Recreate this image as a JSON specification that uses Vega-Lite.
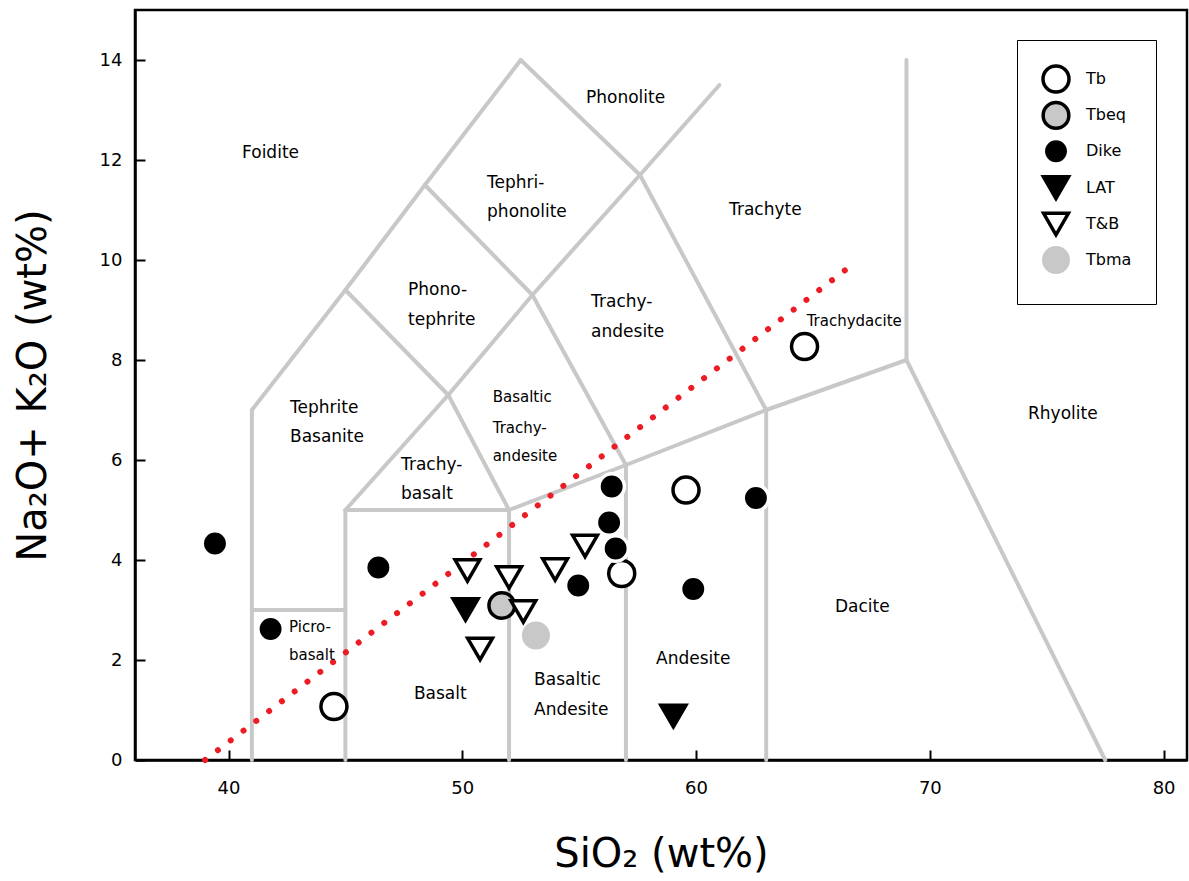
{
  "$schema": "https://vega.github.io/schema/vega-lite/v6.json",
  "width": 1052,
  "height": 750,
  "autosize": {"type": "none"},
  "padding": {"left": 135, "top": 10, "right": 2, "bottom": 121},
  "background": "white",
  "config": {
    "view": {"stroke": "black", "strokeWidth": 2.5},
    "axis": {
      "domainColor": "black",
      "domainWidth": 2.5,
      "tickColor": "black",
      "tickWidth": 2,
      "tickSize": -10,
      "grid": false,
      "labelFont": "DejaVu Sans",
      "labelFontSize": 18,
      "labelColor": "black",
      "labelFlush": false,
      "titleFont": "DejaVu Sans",
      "titleFontSize": 40,
      "titleFontWeight": "normal",
      "titleColor": "black"
    },
    "legend": {
      "orient": "none",
      "legendX": 882,
      "legendY": 30,
      "padding": 24,
      "strokeColor": "black",
      "fillColor": "white",
      "labelFont": "DejaVu Sans",
      "labelFontSize": 16,
      "labelColor": "black",
      "labelOffset": 15,
      "rowPadding": -4.6,
      "gridAlign": "all",
      "symbolStrokeWidth": 3.5,
      "symbolOpacity": 1
    }
  },
  "datasets": {
    "segments": [
      {"x": 41, "y": 0, "x2": 41, "y2": 7},
      {"x": 41, "y": 3, "x2": 45, "y2": 3},
      {"x": 45, "y": 0, "x2": 45, "y2": 5},
      {"x": 45, "y": 5, "x2": 52, "y2": 5},
      {"x": 52, "y": 0, "x2": 52, "y2": 5},
      {"x": 52, "y": 5, "x2": 57, "y2": 5.9},
      {"x": 57, "y": 0, "x2": 57, "y2": 5.9},
      {"x": 57, "y": 5.9, "x2": 63, "y2": 7},
      {"x": 63, "y": 0, "x2": 63, "y2": 7},
      {"x": 63, "y": 7, "x2": 69, "y2": 8},
      {"x": 69, "y": 8, "x2": 69, "y2": 14},
      {"x": 69, "y": 8, "x2": 77.5, "y2": 0},
      {"x": 45, "y": 5, "x2": 49.4, "y2": 7.3},
      {"x": 49.4, "y": 7.3, "x2": 52, "y2": 5},
      {"x": 49.4, "y": 7.3, "x2": 53, "y2": 9.3},
      {"x": 53, "y": 9.3, "x2": 57, "y2": 5.9},
      {"x": 53, "y": 9.3, "x2": 57.6, "y2": 11.7},
      {"x": 57.6, "y": 11.7, "x2": 63, "y2": 7},
      {"x": 57.6, "y": 11.7, "x2": 61, "y2": 13.5},
      {"x": 41, "y": 7, "x2": 45, "y2": 9.4},
      {"x": 45, "y": 9.4, "x2": 49.4, "y2": 7.3},
      {"x": 45, "y": 9.4, "x2": 48.4, "y2": 11.5},
      {"x": 48.4, "y": 11.5, "x2": 53, "y2": 9.3},
      {"x": 48.4, "y": 11.5, "x2": 52.5, "y2": 14},
      {"x": 52.5, "y": 14, "x2": 57.6, "y2": 11.7}
    ],
    "divider": [
      {"x": 39, "y": 0, "x2": 66.5, "y2": 9.84}
    ],
    "labelsLarge": [
      {"x": 40.58, "y": 12.14, "label": "Foidite"},
      {"x": 55.29, "y": 13.24, "label": "Phonolite"},
      {"x": 51.06, "y": 11.54, "label": "Tephri-"},
      {"x": 51.06, "y": 10.96, "label": "phonolite"},
      {"x": 61.41, "y": 11.0, "label": "Trachyte"},
      {"x": 47.68, "y": 9.4, "label": "Phono-"},
      {"x": 47.68, "y": 8.8, "label": "tephrite"},
      {"x": 55.51, "y": 9.16, "label": "Trachy-"},
      {"x": 55.51, "y": 8.56, "label": "andesite"},
      {"x": 42.63, "y": 7.04, "label": "Tephrite"},
      {"x": 42.63, "y": 6.46, "label": "Basanite"},
      {"x": 47.38, "y": 5.9, "label": "Trachy-"},
      {"x": 47.38, "y": 5.32, "label": "basalt"},
      {"x": 74.2, "y": 6.92, "label": "Rhyolite"},
      {"x": 65.94, "y": 3.06, "label": "Dacite"},
      {"x": 47.93, "y": 1.33, "label": "Basalt"},
      {"x": 53.07, "y": 1.6, "label": "Basaltic"},
      {"x": 53.07, "y": 1.0, "label": "Andesite"},
      {"x": 58.29, "y": 2.03, "label": "Andesite"}
    ],
    "labelsSmall": [
      {"x": 64.73, "y": 8.79, "label": "Trachydacite"},
      {"x": 51.3, "y": 7.27, "label": "Basaltic"},
      {"x": 51.3, "y": 6.65, "label": "Trachy-"},
      {"x": 51.3, "y": 6.08, "label": "andesite"},
      {"x": 42.59, "y": 2.66, "label": "Picro-"},
      {"x": 42.59, "y": 2.1, "label": "basalt"}
    ],
    "samples": [
      {"x": 44.51, "y": 1.07, "group": "Tb"},
      {"x": 64.64, "y": 8.27, "group": "Tb"},
      {"x": 59.57, "y": 5.4, "group": "Tb"},
      {"x": 56.82, "y": 3.73, "group": "Tb"},
      {"x": 51.69, "y": 3.09, "group": "Tbeq"},
      {"x": 53.15, "y": 2.49, "group": "Tbma"},
      {"x": 39.42, "y": 4.33, "group": "Dike"},
      {"x": 41.8, "y": 2.62, "group": "Dike"},
      {"x": 46.41, "y": 3.85, "group": "Dike"},
      {"x": 56.39, "y": 5.47, "group": "Dike"},
      {"x": 56.28, "y": 4.75, "group": "Dike"},
      {"x": 56.56, "y": 4.23, "group": "Dike"},
      {"x": 54.96, "y": 3.49, "group": "Dike"},
      {"x": 59.88, "y": 3.42, "group": "Dike"},
      {"x": 62.56, "y": 5.24, "group": "Dike"},
      {"x": 50.14, "y": 3.01, "group": "LAT"},
      {"x": 59.03, "y": 0.88, "group": "LAT"},
      {"x": 50.22, "y": 3.79, "group": "T&B"},
      {"x": 52.0, "y": 3.65, "group": "T&B"},
      {"x": 52.61, "y": 2.97, "group": "T&B"},
      {"x": 50.76, "y": 2.22, "group": "T&B"},
      {"x": 53.97, "y": 3.81, "group": "T&B"},
      {"x": 55.25, "y": 4.28, "group": "T&B"}
    ]
  },
  "encoding": {
    "x": {
      "field": "x",
      "type": "quantitative",
      "scale": {"domain": [36, 81], "nice": false, "zero": false},
      "axis": {
        "values": [40, 50, 60, 70, 80],
        "labelPadding": 29,
        "title": "SiO₂ (wt%)",
        "titleY": 106,
        "titleBaseline": "alphabetic"
      }
    },
    "y": {
      "field": "y",
      "type": "quantitative",
      "scale": {"domain": [0, 15], "nice": false, "zero": false},
      "axis": {
        "values": [0, 2, 4, 6, 8, 10, 12, 14],
        "labelPadding": 23,
        "title": "Na₂O+ K₂O (wt%)",
        "titleX": -90,
        "titleBaseline": "alphabetic"
      }
    }
  },
  "layer": [
    {
      "data": {"name": "segments"},
      "mark": {"type": "rule", "color": "#c8c8c8", "strokeWidth": 4, "strokeCap": "round"},
      "encoding": {
        "x2": {"field": "x2"},
        "y2": {"field": "y2"}
      }
    },
    {
      "data": {"name": "divider"},
      "mark": {"type": "rule", "color": "#ec1c24", "strokeWidth": 6, "strokeCap": "round", "strokeDash": [0.01, 16.1]},
      "encoding": {
        "x2": {"field": "x2"},
        "y2": {"field": "y2"}
      }
    },
    {
      "data": {"name": "labelsLarge"},
      "mark": {"type": "text", "align": "left", "baseline": "middle", "font": "DejaVu Sans", "fontSize": 17, "color": "black"},
      "encoding": {
        "text": {"field": "label", "type": "nominal"}
      }
    },
    {
      "data": {"name": "labelsSmall"},
      "mark": {"type": "text", "align": "left", "baseline": "middle", "font": "DejaVu Sans", "fontSize": 15, "color": "black"},
      "encoding": {
        "text": {"field": "label", "type": "nominal"}
      }
    },
    {
      "data": {"name": "samples"},
      "mark": {"type": "point", "strokeWidth": 3.5, "opacity": 1},
      "encoding": {
        "shape": {
          "field": "group", "type": "nominal",
          "scale": {"domain": ["Tb", "Tbeq", "Dike", "LAT", "T&B", "Tbma"], "range": ["circle", "circle", "circle", "triangle-down", "triangle-down", "circle"]},
          "legend": {"title": null}
        },
        "fill": {
          "field": "group", "type": "nominal",
          "scale": {"domain": ["Tb", "Tbeq", "Dike", "LAT", "T&B", "Tbma"], "range": ["white", "#c8c8c8", "black", "black", "white", "#c8c8c8"]},
          "legend": {"title": null}
        },
        "stroke": {
          "field": "group", "type": "nominal",
          "scale": {"domain": ["Tb", "Tbeq", "Dike", "LAT", "T&B", "Tbma"], "range": ["black", "black", "white", "black", "black", "#c8c8c8"]},
          "legend": {"title": null}
        },
        "size": {
          "field": "group", "type": "nominal",
          "scale": {"domain": ["Tb", "Tbeq", "Dike", "LAT", "T&B", "Tbma"], "range": [676, 600, 676, 380, 576, 615]},
          "legend": {"title": null}
        }
      }
    }
  ]
}
